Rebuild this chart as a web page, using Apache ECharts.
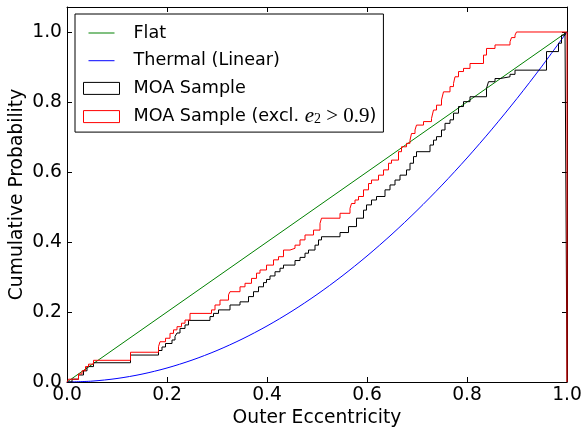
<!DOCTYPE html>
<html>
<head>
<meta charset="utf-8">
<script src="https://cdn.jsdelivr.net/npm/echarts@6.0.0/dist/echarts.min.js"></script>
<style>html,body{margin:0;padding:0;background:#fff;}#chart{width:582px;height:428px;}</style>
</head>
<body>
<div id="chart"></div>
<script>
// ---- data ----
var xTicks = [0.0, 0.2, 0.4, 0.6, 0.8, 1.0];
var yTicks = [0.0, 0.2, 0.4, 0.6, 0.8, 1.0];

var flatX = [0, 1];
var flatY = [0, 1];

var thermalX = [0, 0.05, 0.1, 0.15, 0.2, 0.25, 0.3, 0.35, 0.4, 0.45, 0.5, 0.55, 0.6, 0.65, 0.7, 0.75, 0.8, 0.85, 0.9, 0.95, 1.0];
var thermalY = [0, 0.0025, 0.01, 0.0225, 0.04, 0.0625, 0.09, 0.1225, 0.16, 0.2025, 0.25, 0.3025, 0.36, 0.4225, 0.49, 0.5625, 0.64, 0.7225, 0.81, 0.9025, 1.0];

var moaX = [0, 0.01, 0.023, 0.033, 0.04, 0.053, 0.127, 0.183, 0.19, 0.197, 0.21, 0.216, 0.22, 0.226, 0.236, 0.243, 0.286, 0.293, 0.303, 0.326, 0.346, 0.363, 0.373, 0.383, 0.393, 0.399, 0.406, 0.416, 0.426, 0.433, 0.456, 0.466, 0.476, 0.483, 0.496, 0.503, 0.509, 0.546, 0.563, 0.579, 0.593, 0.599, 0.609, 0.619, 0.636, 0.646, 0.656, 0.666, 0.679, 0.686, 0.693, 0.699, 0.726, 0.733, 0.739, 0.749, 0.756, 0.766, 0.773, 0.783, 0.793, 0.806, 0.839, 0.843, 0.856, 0.866, 0.886, 0.896, 0.959, 0.983, 0.989, 0.996, 1.0, 1.0];
var moaY = [0, 0.008, 0.02, 0.032, 0.044, 0.055, 0.077, 0.09, 0.1, 0.11, 0.12, 0.13, 0.14, 0.153, 0.163, 0.176, 0.187, 0.196, 0.206, 0.22, 0.229, 0.244, 0.258, 0.272, 0.284, 0.293, 0.303, 0.315, 0.325, 0.334, 0.347, 0.356, 0.368, 0.377, 0.391, 0.406, 0.415, 0.427, 0.444, 0.468, 0.491, 0.506, 0.52, 0.53, 0.549, 0.563, 0.577, 0.591, 0.606, 0.625, 0.644, 0.658, 0.677, 0.691, 0.701, 0.72, 0.739, 0.749, 0.768, 0.787, 0.801, 0.815, 0.839, 0.858, 0.867, 0.872, 0.879, 0.891, 0.944, 0.968, 0.991, 1.0, 1.0, 0];

var moaExX = [0, 0.003, 0.023, 0.03, 0.037, 0.043, 0.053, 0.127, 0.183, 0.186, 0.197, 0.206, 0.213, 0.22, 0.229, 0.236, 0.246, 0.289, 0.296, 0.306, 0.323, 0.326, 0.346, 0.356, 0.369, 0.379, 0.386, 0.399, 0.413, 0.423, 0.433, 0.446, 0.456, 0.466, 0.476, 0.493, 0.506, 0.509, 0.546, 0.566, 0.569, 0.576, 0.583, 0.593, 0.603, 0.609, 0.623, 0.633, 0.643, 0.649, 0.663, 0.669, 0.679, 0.686, 0.689, 0.696, 0.699, 0.713, 0.729, 0.733, 0.739, 0.749, 0.753, 0.766, 0.773, 0.776, 0.783, 0.793, 0.806, 0.833, 0.839, 0.856, 0.886, 0.889, 0.896, 0.899, 1.0, 1.0];
var moaExY = [0, 0.008, 0.023, 0.032, 0.044, 0.051, 0.062, 0.085, 0.101, 0.115, 0.125, 0.139, 0.149, 0.158, 0.168, 0.177, 0.196, 0.206, 0.22, 0.234, 0.249, 0.258, 0.272, 0.282, 0.296, 0.311, 0.32, 0.334, 0.349, 0.358, 0.377, 0.382, 0.391, 0.406, 0.42, 0.434, 0.453, 0.468, 0.482, 0.496, 0.51, 0.52, 0.53, 0.549, 0.567, 0.577, 0.591, 0.606, 0.625, 0.634, 0.658, 0.672, 0.682, 0.691, 0.71, 0.72, 0.734, 0.744, 0.753, 0.777, 0.791, 0.806, 0.829, 0.844, 0.853, 0.872, 0.887, 0.896, 0.91, 0.934, 0.953, 0.963, 0.972, 0.984, 0.991, 1.0, 1.0, 0];

var seriesNames = ['Flat', 'Thermal (Linear)', 'MOA Sample', 'MOA Sample (excl. e\u2082 > 0.9)'];
var xLabel = 'Outer Eccentricity';
var yLabel = 'Cumulative Probability';

function pairs(xs, ys) { return xs.map(function (x, i) { return [x, ys[i]]; }); }

var FONT = 'DejaVu Sans';
var AXFS = 18.7;
var LGFS = 17.6;
var chart = echarts.init(document.getElementById('chart'), null, { renderer: 'canvas' });

var lineIcon = 'path://M0,0M36,12M5,5.5h26v1h-26z';

function commonAxis(extra) {
  var base = {
    type: 'value',
    axisLine: { show: true, onZero: false, lineStyle: { color: '#000', width: 1 } },
    axisTick: { show: true, inside: true, length: 5, lineStyle: { color: '#000', width: 1 } },
    splitLine: { show: false },
    minorTick: { show: false }
  };
  for (var k in extra) base[k] = extra[k];
  return base;
}

var option = {
  animation: false,
  backgroundColor: '#fff',
  grid: { left: 67, right: 15, top: 7, bottom: 46, containLabel: false, outerBoundsMode: 'none' },
  xAxis: [
    commonAxis({
      position: 'bottom', min: xTicks[0], max: xTicks[xTicks.length - 1], interval: 0.2,
      name: xLabel, nameLocation: 'middle', nameGap: 27, nameMoveOverlap: false,
      nameTextStyle: { fontFamily: FONT, fontSize: AXFS, color: '#000' },
      axisLabel: { show: true, margin: 4, color: '#000', fontFamily: FONT, fontSize: AXFS,
        formatter: function (v) { return v.toFixed(1); } }
    }),
    commonAxis({
      position: 'top', min: xTicks[0], max: xTicks[xTicks.length - 1], interval: 0.2,
      axisLabel: { show: false }
    })
  ],
  yAxis: [
    commonAxis({
      position: 'left', min: yTicks[0], max: 1.0714, interval: 0.2,
      name: yLabel, nameLocation: 'middle', nameGap: 40, nameRotate: 90, nameMoveOverlap: false,
      nameTextStyle: { fontFamily: FONT, fontSize: AXFS, color: '#000' },
      axisLabel: { show: true, margin: 5, color: '#000', fontFamily: FONT, fontSize: AXFS, showMaxLabel: false,
        formatter: function (v) { return Math.abs(v * 5 - Math.round(v * 5)) < 1e-6 ? v.toFixed(1) : ''; } }
    }),
    commonAxis({
      position: 'right', min: yTicks[0], max: 1.0714, interval: 0.2,
      axisLabel: { show: false }
    })
  ],
  legend: {
    orient: 'vertical', left: 75, top: 14,
    padding: [9, 7, 5, 8], itemGap: 7.7, itemWidth: 36, itemHeight: 12,
    backgroundColor: '#fff', borderColor: '#000', borderWidth: 1, borderRadius: 0,
    selectedMode: false,
    textStyle: {
      fontFamily: FONT, fontSize: LGFS, color: '#000', lineHeight: 20,
      rich: {
        sp: { width: 9, lineHeight: 20 },
        t: { fontFamily: FONT, fontSize: LGFS, color: '#000', lineHeight: 20 },
        e: { fontFamily: 'Liberation Serif', fontStyle: 'italic', fontSize: 21, color: '#000', lineHeight: 20 },
        s: { fontFamily: 'Liberation Serif', fontSize: 14, color: '#000', lineHeight: 20, verticalAlign: 'bottom', padding: [6, 0, 0, 0] },
        m: { fontFamily: 'Liberation Serif', fontSize: 21, color: '#000', lineHeight: 20 }
      }
    },
    formatter: function (name) {
      if (name === seriesNames[3]) {
        return '{sp| }{t|MOA Sample (excl. }{e|e}{s|2}{m| > 0.9}{t|)}';
      }
      return '{sp| }{t|' + name + '}';
    },
    data: [
      { name: seriesNames[0], icon: lineIcon, itemStyle: { color: '#008000', borderWidth: 0 } },
      { name: seriesNames[1], icon: lineIcon, itemStyle: { color: '#0000ff', borderWidth: 0 } },
      { name: seriesNames[2], icon: 'rect', itemStyle: { color: '#fff', borderColor: '#000', borderWidth: 1 } },
      { name: seriesNames[3], icon: 'rect', itemStyle: { color: '#fff', borderColor: '#ff0000', borderWidth: 1 } }
    ]
  },
  series: [
    { name: seriesNames[0], type: 'line', data: pairs(flatX, flatY), showSymbol: false, symbol: 'none',
      lineStyle: { color: '#008000', width: 1 }, itemStyle: { color: '#008000' }, z: 2 },
    { name: seriesNames[1], type: 'line', data: pairs(thermalX, thermalY), showSymbol: false, symbol: 'none', smooth: 0.3,
      lineStyle: { color: '#0000ff', width: 1 }, itemStyle: { color: '#0000ff' }, z: 3 },
    { name: seriesNames[2], type: 'line', data: pairs(moaX, moaY), step: 'end', showSymbol: false, symbol: 'none',
      lineStyle: { color: '#000000', width: 1 }, itemStyle: { color: '#000000' }, z: 4, clip: false },
    { name: seriesNames[3], type: 'line', data: pairs(moaExX, moaExY), step: 'end', showSymbol: false, symbol: 'none',
      lineStyle: { color: '#ff0000', width: 1 }, itemStyle: { color: '#ff0000' }, z: 5, clip: false }
  ]
};
chart.setOption(option);
</script>
</body>
</html>
